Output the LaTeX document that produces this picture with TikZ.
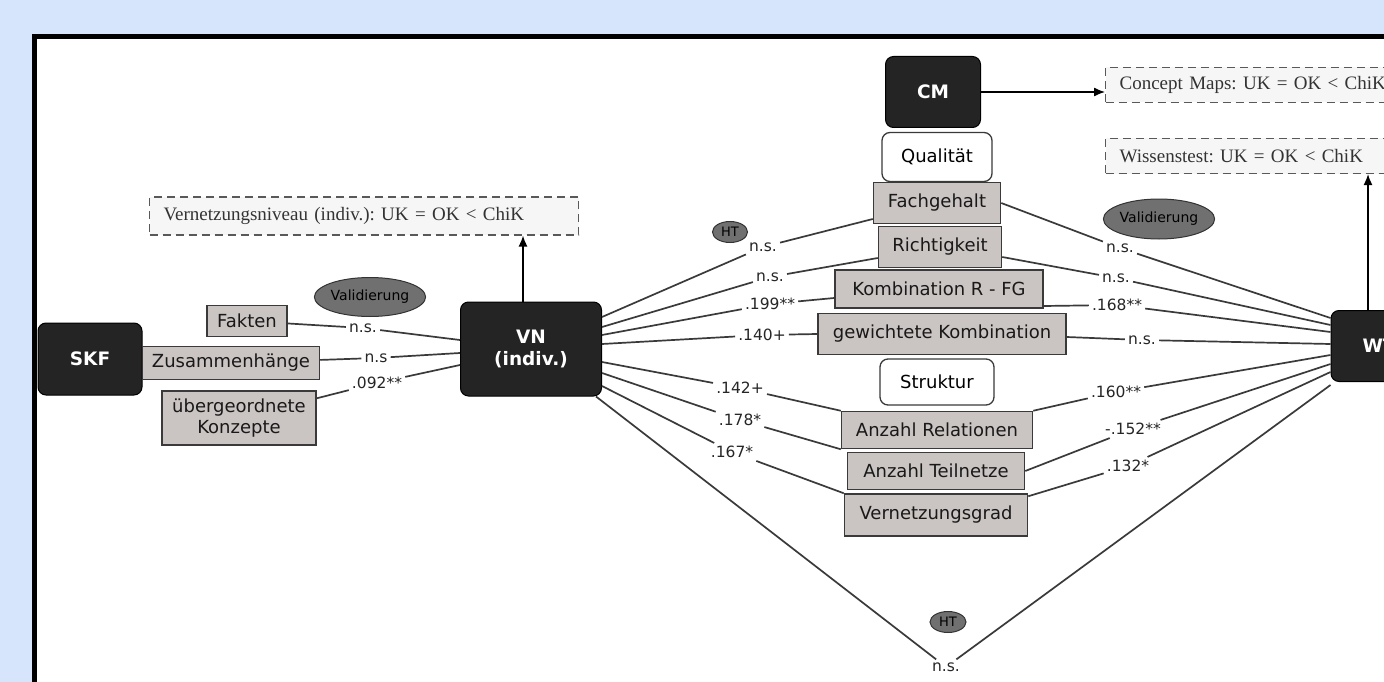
\documentclass[tikz,border=0pt]{standalone}
\usepackage{fontspec}
\usepackage{tikz}
\usetikzlibrary{shapes.geometric,arrows.meta}
\newfontfamily\sansfam{DejaVu Sans}
\newfontfamily\seriffam{Liberation Serif}
\frenchspacing
\definecolor{bgblue}{RGB}{214,228,252}
\definecolor{boxgray}{RGB}{202,196,194}
\definecolor{darkbox}{RGB}{36,36,36}
\definecolor{ovalgray}{RGB}{112,112,112}
\definecolor{linegray}{RGB}{58,58,58}
\definecolor{notegray}{RGB}{246,246,246}
\newcommand{\boxtext}{\sansfam\fontsize{18}{21}\selectfont}
\newcommand{\headtext}{\sansfam\fontsize{18.5}{22}\selectfont}
\newcommand{\coeftext}{\sansfam\fontsize{15.5}{18}\selectfont}
\newcommand{\notetext}{\seriffam\fontsize{19}{23}\selectfont}
\tikzset{
  blackbox/.style={draw=black, fill=darkbox, rounded corners=8pt, text=white,
    font=\headtext\bfseries, align=center, inner sep=0pt, line width=1pt},
  graybox/.style={draw=linegray, fill=boxgray, font=\boxtext, text=black!90,
    inner sep=0pt, line width=1.5pt, align=center},
  headbox/.style={draw=linegray, fill=white, rounded corners=8pt, font=\boxtext,
    inner sep=0pt, line width=1.3pt},
  oval/.style={ellipse, draw=black!80, fill=ovalgray, inner sep=0pt, line width=1pt},
  coef/.style={font=\coeftext, text=black!85, inner sep=3pt},
  note/.style={draw=black!65, fill=notegray, dash pattern=on 8pt off 5pt,
    line width=1.2pt, font=\notetext, text=black!80, inner sep=0pt},
  conn/.style={draw=linegray, line width=1.7pt},
  arrow/.style={draw=black, line width=1.3pt, -{Latex[length=11pt,width=9pt]}}
}

\begin{document}
\begin{tikzpicture}[x=1pt, y=-1pt]

  \useasboundingbox (0,0) rectangle (1384,682);
  \clip (0,0) rectangle (1384,682);
  \fill[bgblue] (0,0) rectangle (1384,682);
  \draw[line width=5pt, fill=white] (34.5,36.5) rectangle (1420,720);

  % left part
  \node[blackbox, minimum width=104, minimum height=72] (skf) at (90,359) {SKF};
  \node[graybox, minimum width=80, minimum height=31] (fakten) at (247,321) {Fakten};
  \node[graybox, minimum width=177, minimum height=33] (zus) at (231,363) {Zusammenhänge};
  \node[graybox, minimum width=154, minimum height=54] (konz) at (239,418) {übergeordnete\\Konzepte};
  \node[oval, minimum width=98, minimum height=39] (val1) at (370,297) {\fontsize{14}{16}\sansfam Validierung};

  \node[blackbox, minimum width=141, minimum height=94] (vn) at (531,349) {VN\\(indiv.)};
  \node[note, minimum height=38, text width=401pt, inner xsep=14pt, align=left] (vniv) at (364,216)
    {Vernetzungsniveau (indiv.): UK = OK < ChiK};

  % concept maps
  \node[blackbox, minimum width=95, minimum height=71] (cm) at (933,92) {CM};
  \node[headbox, minimum width=110, minimum height=49] (qual) at (937,157) {Qualität};
  \node[graybox, minimum width=127, minimum height=41] (fach) at (937,203) {Fachgehalt};
  \node[graybox, minimum width=123, minimum height=41] (richt) at (940,247) {Richtigkeit};
  \node[graybox, minimum width=208, minimum height=38] (kombi) at (939,289) {Kombination R - FG};
  \node[graybox, minimum width=248, minimum height=41] (gewkombi) at (942,334) {gewichtete Kombination};
  \node[headbox, minimum width=114, minimum height=46] (strukt) at (937,382) {Struktur};
  \node[graybox, minimum width=191, minimum height=37] (anzrel) at (937,430) {Anzahl Relationen};
  \node[graybox, minimum width=177, minimum height=37] (anzteil) at (936,471) {Anzahl Teilnetze};
  \node[graybox, minimum width=183, minimum height=42] (vgrad) at (936,515) {Vernetzungsgrad};

  \node[oval, minimum width=35, minimum height=21] (ht1) at (730,232) {\fontsize{13}{15}\sansfam HT};
  \node[oval, minimum width=36, minimum height=21] (ht2) at (948,622) {\fontsize{13}{15}\sansfam HT};
  \node[oval, minimum width=96, minimum height=40] (val2) at (1159,219) {\fontsize{14}{16}\sansfam Validierung};

  % right part
  \node[blackbox, minimum width=96, minimum height=71] (wt) at (1379,346) {WT};
  \node[note, anchor=west, minimum height=35, text width=292pt, inner xsep=14pt, align=left]
    (cmnote) at (1105,85) {Concept Maps: UK = OK < ChiK};
  \node[note, anchor=west, minimum height=35, text width=292pt, inner xsep=14pt, align=left]
    (wissen) at (1105,156) {Wissenstest: UK = OK < ChiK};

  % coefficients
  \node[coef] (c1) at (363,328) {n.s.};
  \node[coef] (c2) at (376,358) {n.s};
  \node[coef] (c3) at (377,383) {.092**};
  \node[coef] (c4) at (763,247) {n.s.};
  \node[coef] (c5) at (770,277) {n.s.};
  \node[coef] (c6) at (770,304) {.199**};
  \node[coef] (c7) at (762,335) {.140+};
  \node[coef] (c8) at (740,388) {.142+};
  \node[coef] (c9) at (740,420) {.178*};
  \node[coef] (c10) at (732,452) {.167*};
  \node[coef] (c11) at (946,667) {n.s.};
  \node[coef] (c12) at (1120,248) {n.s.};
  \node[coef] (c13) at (1116,278) {n.s.};
  \node[coef] (c14) at (1117,305) {.168**};
  \node[coef] (c15) at (1142,340) {n.s.};
  \node[coef] (c16) at (1116,392) {.160**};
  \node[coef] (c17) at (1133,429) {-.152**};
  \node[coef] (c18) at (1128,466) {.132*};

  % connectors SKF -> VN
  \draw[conn] (fakten) -- (c1) -- ([yshift=9pt]vn.west);
  \draw[conn] (zus) -- (c2) -- ([yshift=-4pt]vn.west);
  \draw[conn] (konz) -- (c3) -- ([yshift=-16pt]vn.west);

  % connectors VN -> CM
  \draw[conn] ([yshift=32pt]vn.east) -- (c4) -- ([yshift=-16pt]fach.west);
  \draw[conn] ([yshift=22pt]vn.east) -- (c5) -- ([yshift=-11pt]richt.west);
  \draw[conn] ([yshift=14pt]vn.east) -- (c6) -- ([yshift=-9pt]kombi.west);
  \draw[conn] ([yshift=5pt]vn.east) -- (c7) -- (gewkombi.west);
  \draw[conn] ([yshift=-13pt]vn.east) -- (c8) -- (anzrel.north west);
  \draw[conn] ([yshift=-24pt]vn.east) -- (c9) -- (anzrel.south west);
  \draw[conn] ([yshift=-37pt]vn.east) -- (c10) -- (vgrad.north west);
  \draw[conn] ([xshift=-6pt]vn.south east) -- (c11) -- ([yshift=-39pt]wt.west);

  % connectors CM -> WT
  \draw[conn] (fach.east) -- (c12) -- ([yshift=28pt]wt.west);
  \draw[conn] ([yshift=-10pt]richt.east) -- (c13) -- ([yshift=21pt]wt.west);
  \draw[conn] ([yshift=-17pt]kombi.east) -- (c14) -- ([yshift=14pt]wt.west);
  \draw[conn] ([yshift=-3pt]gewkombi.east) -- (c15) -- ([yshift=2pt]wt.west);
  \draw[conn] (anzrel.north east) -- (c16) -- ([yshift=-9pt]wt.west);
  \draw[conn] (anzteil.east) -- (c17) -- ([yshift=-18pt]wt.west);
  \draw[conn] ([yshift=-3pt]vgrad.north east) -- (c18) -- ([yshift=-26pt]wt.west);

  % results
  \coordinate (vnup) at ([xshift=-8pt]vn.north);
  \draw[arrow] (vnup) -- (vnup |- vniv.south);
  \draw[arrow] (cm.east) -- (cm.east -| cmnote.west);
  \coordinate (wtup) at ([xshift=-11pt]wt.north);
  \draw[arrow] (wtup) -- (wtup |- wissen.south);

\end{tikzpicture}
\end{document}
